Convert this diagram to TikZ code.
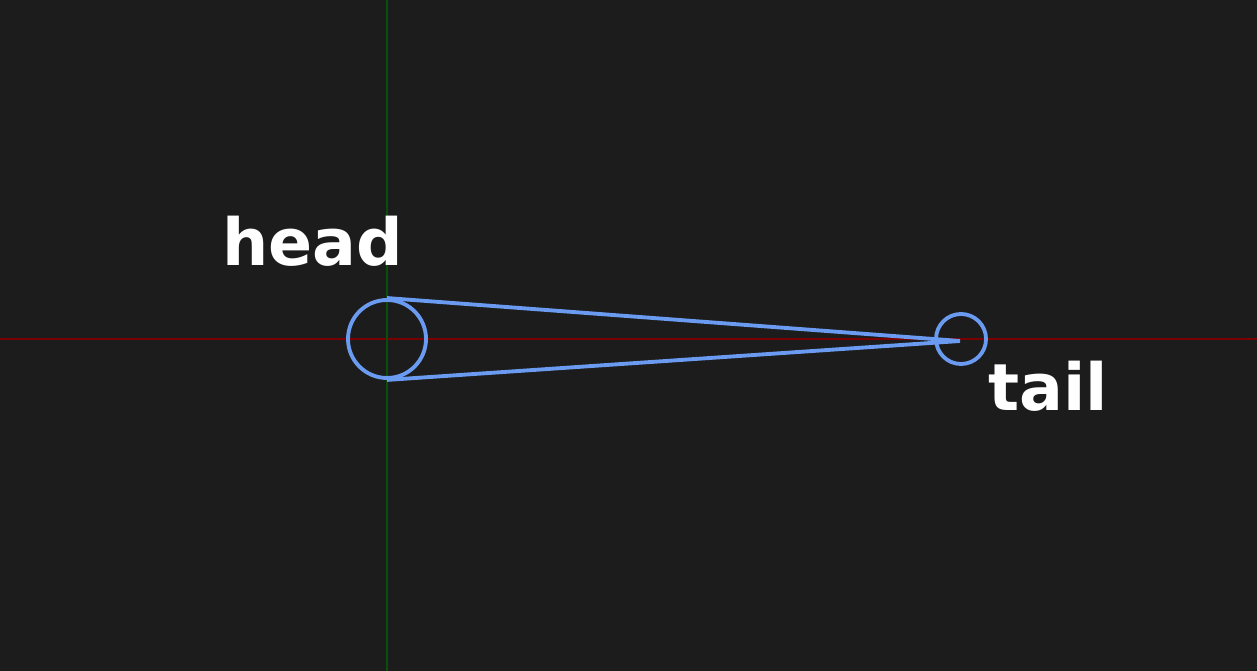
\documentclass[tikz,border=0pt]{standalone}
\usepackage{fontspec}
\setmainfont{DejaVu Sans}
\usetikzlibrary{positioning}
\definecolor{bgdark}{HTML}{1C1C1C}
\definecolor{jointblue}{HTML}{6A9BF0}
\definecolor{axisred}{HTML}{7A0000}
\definecolor{axisgreen}{HTML}{0B4D0B}
\tikzset{
  joint/.style={circle, draw=jointblue, line width=1.1pt, inner sep=0pt},
  bone/.style={draw=jointblue, line width=1.1pt},
  tag/.style={text=white, font=\bfseries\fontsize{18.5}{22}\selectfont, inner sep=0pt}
}
\begin{document}
\begin{tikzpicture}
    % Draw background
    \fill[bgdark] (0,0) rectangle (12.57,-6.71);
    \useasboundingbox (0,0) rectangle (12.57,-6.71);
    % Draw axes
    \draw[axisred, line width=0.35pt] (0,-3.39) -- (12.57,-3.39);
    \draw[axisgreen, line width=0.35pt] (3.87,0) -- (3.87,-6.71);

    % Draw joints
    \node[joint, minimum size=0.78cm] (head) at (3.87,-3.39) {};
    \node[joint, minimum size=0.50cm] (tail) at (9.61,-3.39) {};
    \coordinate (tip) at (9.60,-3.41);

    % Draw bone
    \draw[bone] (head.north) -- (tip) -- (head.south);

    \node[tag, anchor=base] at (3.125,-2.66) {head};
    \node[tag, anchor=base] at (10.48,-4.11) {tail};

\end{tikzpicture}
\end{document}
